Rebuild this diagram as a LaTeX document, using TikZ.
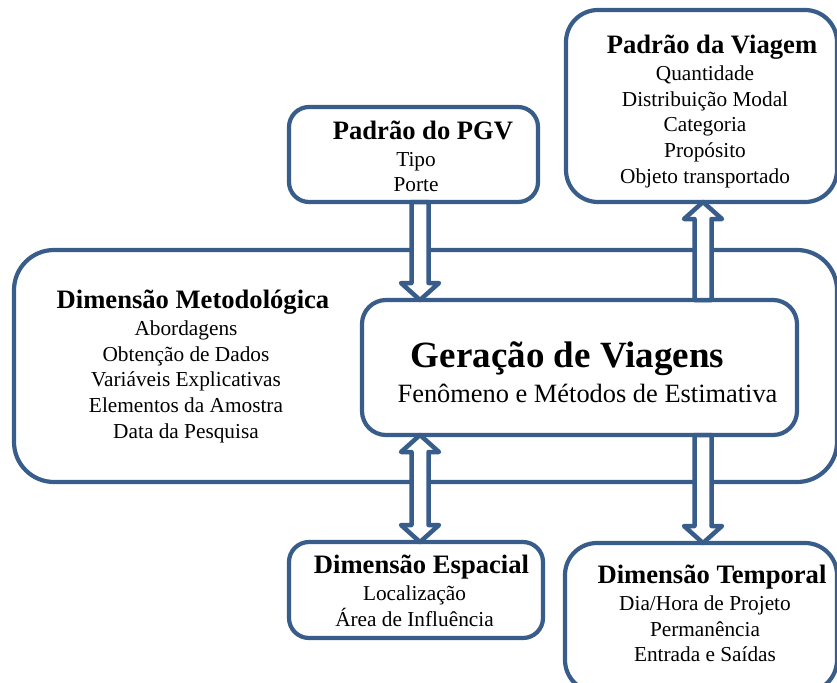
\documentclass[tikz,border=0pt]{standalone}
\usepackage{fontspec}
\setmainfont{Liberation Serif}
\usetikzlibrary{calc}
\definecolor{frameblue}{HTML}{385D8A}
\tikzset{
  dimbox/.style    = {draw=frameblue, line width=4.2pt, fill=white,
                      rounded corners=#1, outer sep=0pt, inner sep=0pt},
  dimbox/.default  = 20pt,
  blockarrow/.style = {draw=frameblue, line width=4.5pt, fill=white,
                       line join=round},
  boxtext/.style   = {align=center, anchor=base, inner sep=0pt,
                      font=\fontsize{21.3}{25.6}\selectfont},
}
\newcommand{\dimtitle}{\fontsize{26.6}{32}\selectfont\bfseries}
\newcommand{\boxtitle}[1]{\hspace*{14pt}{\dimtitle #1}}
% hollow block arrow: x and start from #1, tip at the height of #2
\newcommand{\hollowarrow}[2]{%
  \draw[blockarrow] let \p1=(#1), \p2=(#2), \n1={sign(\y1-\y2)} in
    (\x1-8.5pt,\y1) -- (\x1-8.5pt,{\y2+17pt*\n1}) -- (\x1-19pt,{\y2+17pt*\n1})
    -- (\x1,\y2) -- (\x1+19pt,{\y2+17pt*\n1}) -- (\x1+8.5pt,{\y2+17pt*\n1})
    -- (\x1+8.5pt,\y1) -- cycle;}
% same, with a head at both ends
\newcommand{\hollowdblarrow}[2]{%
  \draw[blockarrow] let \p1=(#1), \p2=(#2), \n1={sign(\y1-\y2)} in
    (\x1-8.5pt,{\y1-17pt*\n1}) -- (\x1-8.5pt,{\y2+17pt*\n1}) -- (\x1-19pt,{\y2+17pt*\n1})
    -- (\x1,\y2) -- (\x1+19pt,{\y2+17pt*\n1}) -- (\x1+8.5pt,{\y2+17pt*\n1})
    -- (\x1+8.5pt,{\y1-17pt*\n1}) -- (\x1+19pt,{\y1-17pt*\n1}) -- (\x1,\y1)
    -- (\x1-19pt,{\y1-17pt*\n1}) -- cycle;}

\begin{document}
\begin{tikzpicture}[x=1pt, y=-1pt]
\useasboundingbox (0,0) rectangle (837,682);

% ========== frames ==========
\node[dimbox=40pt, minimum width=823pt, minimum height=232pt] (metod) at (425.5,366) {};
\node[dimbox=24pt, minimum width=435pt, minimum height=135pt] (gen) at (579.5,367.5) {};
\node[dimbox, minimum width=249pt, minimum height=95pt] (pgv) at (413.5,154.5) {};
\node[dimbox=32pt, minimum width=271pt, minimum height=192pt] (viagem) at (701.5,106) {};
\node[dimbox, minimum width=254pt, minimum height=96pt] (espacial) at (416,590) {};
\node[dimbox=32pt, minimum width=272pt, minimum height=149pt] (temporal) at (701,617.5) {};

% ========== texts ==========
\node[boxtext] (metodtxt) at (186,438)
  {\boxtitle{Dimensão Metodológica}\\[1.2pt] Abordagens\\ Obtenção de Dados\\
   Variáveis Explicativas\\ Elementos da Amostra\\ Data da Pesquisa};
\node[boxtext, font=\fontsize{26.4}{35}\selectfont] (gentxt) at (587.5,402)
  {\hspace*{-40pt}{\fontsize{37}{40}\selectfont\bfseries Geração de Viagens}\\
   Fenômeno e Métodos de Estimativa};
\node[boxtext] (pgvtxt) at (416,191.7)
  {\boxtitle{Padrão do PGV}\\[1.2pt] Tipo\\ Porte};
\node[boxtext] (viagemtxt) at (705,183)
  {\boxtitle{Padrão da Viagem}\\[1.2pt] Quantidade\\ Distribuição Modal\\
   Categoria\\ Propósito\\ Objeto transportado};
\node[boxtext] (espacialtxt) at (414.5,626)
  {\boxtitle{Dimensão Espacial}\\[1.2pt] Localização\\ Área de Influência};
\node[boxtext] (temporaltxt) at (705,661.7)
  {\boxtitle{Dimensão Temporal}\\[1.2pt] Dia/Hora de Projeto\\ Permanência\\
   Entrada e Saídas};

% ========== arrows ==========
\hollowarrow{$(pgv.south)+(6.5,0)$}{gen.north}
\hollowarrow{$(viagem.south |- gen.north)+(1.5,0)$}{viagem.south}
\hollowarrow{$(temporal.north |- gen.south)+(2,0)$}{temporal.north}
\hollowdblarrow{$(espacial.north)+(4,0)$}{gen.south}

\end{tikzpicture}
\end{document}
